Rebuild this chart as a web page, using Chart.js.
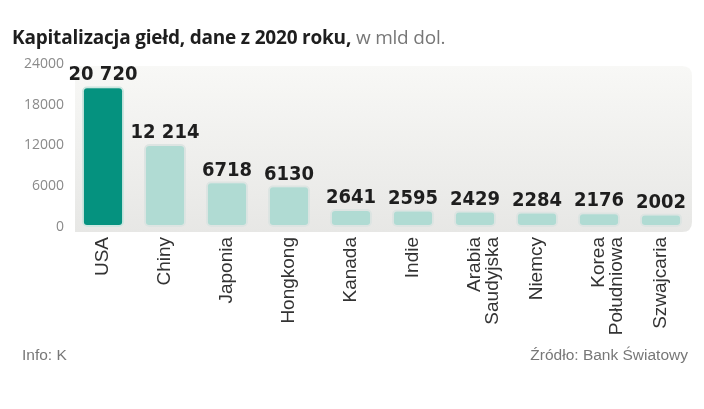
<!DOCTYPE html>
<html>
<head>
<meta charset="utf-8">
<script src="https://cdn.jsdelivr.net/npm/chart.js@4/dist/chart.umd.min.js"></script>
<style>
  html, body { margin: 0; padding: 0; background: #fff; }
  #wrap { position: relative; width: 704px; height: 409px; overflow: hidden; }
  #chart { position: absolute; left: 0; top: 0; }
  .title { position: absolute; left: 12px; top: 24px; font-family: 'Open Sans', sans-serif; font-size: 19px; color: #1e1e1e; letter-spacing: -0.2px; white-space: nowrap; }
  .title b { font-weight: 700; }
  .title span { color: #777; font-weight: 400; }
  .foot { position: absolute; top: 346px; font-family: 'Liberation Sans', sans-serif; font-size: 15.5px; color: #777; white-space: nowrap; }
</style>
</head>
<body>
<div id="wrap">
  <canvas id="chart" width="704" height="409"></canvas>
  <div class="title"><b>Kapitalizacja giełd, dane z 2020 roku,</b> <span>w mld dol.</span></div>
  <div class="foot" style="left:22px">Info: K</div>
  <div class="foot" style="right:16px">Źródło: Bank Światowy</div>
</div>
<script>
const countries = ['USA', 'Chiny', 'Japonia', 'Hongkong', 'Kanada', 'Indie', ['Arabia', 'Saudyjska'], 'Niemcy', ['Korea', 'Południowa'], 'Szwajcaria'];
const capitalization = [20720, 12214, 6718, 6130, 2641, 2595, 2429, 2284, 2176, 2002];
const yTicks = [0, 6000, 12000, 18000, 24000];

// 20720 -> "20 720", 6718 -> "6718"
const fmt = v => v >= 10000 ? String(v).replace(/\B(?=(\d{3})+(?!\d))/g, ' ') : String(v);

// Light gray panel behind the bars
const panelBg = {
    id: 'panelBg',
    beforeDatasetsDraw(chart) {
        const { ctx, chartArea: a } = chart;
        const x0 = a.left + 3, x1 = a.right, y0 = a.top + 2, y1 = a.bottom + 5, r = 10;
        const g = ctx.createLinearGradient(0, y0, 0, y1);
        g.addColorStop(0, '#f8f8f6');
        g.addColorStop(1, '#e7e7e5');
        ctx.save();
        ctx.fillStyle = g;
        ctx.beginPath();
        ctx.moveTo(x0, y0);
        ctx.lineTo(x1 - r, y0);
        ctx.quadraticCurveTo(x1, y0, x1, y0 + r);
        ctx.lineTo(x1, y1 - r);
        ctx.quadraticCurveTo(x1, y1, x1 - r, y1);
        ctx.lineTo(x0, y1);
        ctx.closePath();
        ctx.fill();
        ctx.restore();
    }
};

// Value labels above bars
const valueLabels = {
    id: 'valueLabels',
    afterDatasetsDraw(chart) {
        const { ctx } = chart;
        const meta = chart.getDatasetMeta(0);
        ctx.save();
        ctx.font = 'bold 20px "DejaVu Sans Condensed", "DejaVu Sans", sans-serif';
        ctx.fillStyle = '#1e1e1e';
        ctx.textAlign = 'center';
        ctx.textBaseline = 'bottom';
        meta.data.forEach((bar, i) => {
            ctx.fillText(fmt(capitalization[i]), bar.x, bar.y - 1);
        });
        ctx.restore();
    }
};

new Chart(document.getElementById('chart'), {
    type: 'bar',
    data: {
        labels: countries,
        datasets: [{
            data: capitalization,
            backgroundColor: capitalization.map((v, i) => i === 0 ? '#05927f' : '#b0dbd3'),
            borderColor: capitalization.map((v, i) => i === 0 ? '#cde6e0' : '#dde4e2'),
            borderWidth: 2,
            borderRadius: 5,
            borderSkipped: false,
            categoryPercentage: 0.68,
            barPercentage: 1,
        }],
    },
    options: {
        responsive: false,
        animation: false,
        layout: { padding: { top: 64, right: 12, bottom: 0, left: 0 } },
        scales: {
            x: {
                grid: { display: false, drawTicks: false },
                border: { display: false },
                ticks: {
                    minRotation: 90,
                    maxRotation: 90,
                    padding: 10,
                    autoSkip: false,
                    color: '#333',
                    font: { family: 'Liberation Sans', size: 19, lineHeight: 0.95 },
                },
                afterFit: s => { s.height = 182; },
            },
            y: {
                min: 0,
                max: 24000,
                grid: { display: false, drawTicks: false },
                border: { display: false },
                afterBuildTicks: s => { s.ticks = yTicks.map(v => ({ value: v })); },
                ticks: {
                    padding: 8,
                    color: '#8a8a8a',
                    font: { family: 'Open Sans', size: 14 },
                    callback: v => String(v),
                },
                afterFit: s => { s.width = 72; },
            },
        },
        plugins: {
            legend: { display: false },
            tooltip: { enabled: false },
        },
    },
    plugins: [panelBg, valueLabels],
});
</script>
</body>
</html>
